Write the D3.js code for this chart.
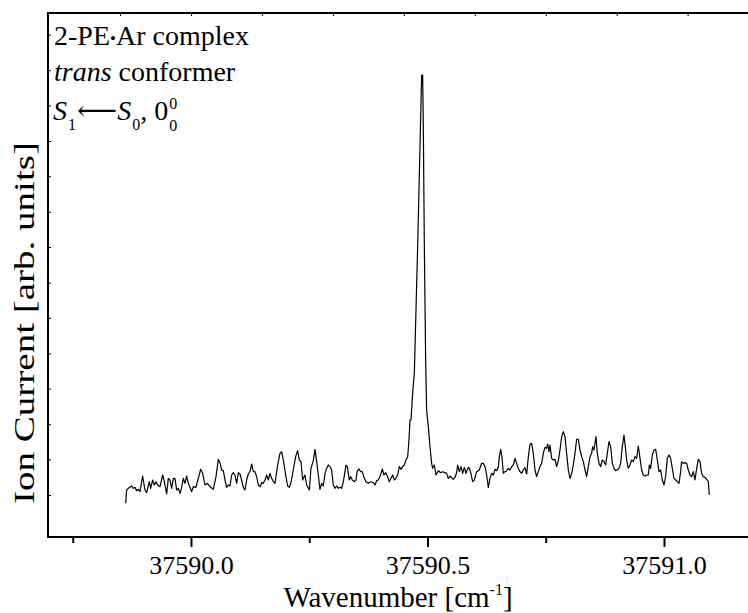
<!DOCTYPE html>
<html><head><meta charset="utf-8">
<script src="https://cdn.jsdelivr.net/npm/d3@7"></script>
<style>
body{margin:0;background:#fff}
svg{display:block}
text{font-family:"Liberation Serif","Times New Roman",Tinos,"Nimbus Roman","DejaVu Serif","Noto Serif",serif;fill:#000}
</style>
</head><body>
<svg id="chart" width="748" height="613"></svg>
<script>
// ---- data ----
const wavenumber = [
37589.8619,37589.8640,37589.8675,37589.8746,37589.8781,37589.8816,37589.8851,37589.8887,37589.8922,37589.8978,
37589.9027,37589.9063,37589.9119,37589.9147,37589.9190,37589.9225,37589.9260,37589.9295,37589.9345,37589.9401,
37589.9436,37589.9486,37589.9521,37589.9556,37589.9591,37589.9627,37589.9662,37589.9697,37589.9732,37589.9767,
37589.9803,37589.9838,37589.9873,37589.9908,37589.9944,37589.9979,37590.0014,37590.0049,37590.0106,37590.0155,
37590.0204,37590.0247,37590.0296,37590.0345,37590.0402,37590.0472,37590.0529,37590.0578,37590.0613,37590.0648,
37590.0684,37590.0719,37590.0754,37590.0789,37590.0825,37590.0860,37590.0895,37590.0930,37590.0965,37590.1001,
37590.1036,37590.1071,37590.1106,37590.1142,37590.1177,37590.1212,37590.1247,37590.1283,37590.1318,37590.1353,
37590.1388,37590.1424,37590.1459,37590.1494,37590.1529,37590.1564,37590.1600,37590.1635,37590.1670,37590.1705,
37590.1741,37590.1776,37590.1832,37590.1882,37590.1917,37590.1952,37590.2008,37590.2044,37590.2079,37590.2114,
37590.2163,37590.2213,37590.2255,37590.2290,37590.2326,37590.2361,37590.2410,37590.2445,37590.2502,37590.2537,
37590.2586,37590.2622,37590.2657,37590.2692,37590.2727,37590.2762,37590.2798,37590.2833,37590.2868,37590.2903,
37590.2939,37590.2974,37590.3009,37590.3044,37590.3080,37590.3115,37590.3150,37590.3185,37590.3221,37590.3256,
37590.3277,37590.3305,37590.3347,37590.3376,37590.3411,37590.3453,37590.3488,37590.3517,37590.3552,37590.3587,
37590.3622,37590.3657,37590.3700,37590.3749,37590.3805,37590.3855,37590.3890,37590.3925,37590.3960,37590.4010,
37590.4045,37590.4080,37590.4116,37590.4151,37590.4193,37590.4228,37590.4264,37590.4299,37590.4334,37590.4369,
37590.4404,37590.4440,37590.4475,37590.4510,37590.4545,37590.4581,37590.4609,37590.4630,
37590.4651,37590.4686,37590.4722,37590.4757,37590.4792,37590.4827,37590.4863,37590.4877,37590.4898,37590.4912,
37590.4933,37590.4961,37590.4982,37590.5018,37590.5053,37590.5088,37590.5109,
37590.5144,37590.5180,37590.5229,37590.5278,37590.5321,37590.5370,37590.5405,37590.5440,37590.5476,37590.5511,
37590.5546,37590.5581,37590.5617,37590.5638,37590.5673,37590.5708,37590.5744,37590.5779,37590.5814,37590.5849,
37590.5884,37590.5920,37590.5955,37590.5990,37590.6039,37590.6096,37590.6145,37590.6180,37590.6216,37590.6251,
37590.6286,37590.6321,37590.6357,37590.6392,37590.6427,37590.6462,37590.6498,37590.6519,37590.6547,37590.6575,
37590.6603,37590.6638,37590.6674,37590.6709,37590.6744,37590.6779,37590.6815,37590.6850,37590.6885,37590.6920,
37590.6956,37590.6991,37590.7026,37590.7061,37590.7097,37590.7132,37590.7167,37590.7202,37590.7237,37590.7273,
37590.7308,37590.7343,37590.7378,37590.7414,37590.7449,37590.7484,37590.7519,37590.7541,37590.7569,37590.7590,
37590.7625,37590.7660,37590.7696,37590.7731,37590.7766,37590.7801,37590.7837,37590.7872,37590.7907,37590.7942,
37590.7977,37590.8013,37590.8048,37590.8083,37590.8118,37590.8154,37590.8189,37590.8224,37590.8259,37590.8295,
37590.8330,37590.8365,37590.8400,37590.8436,37590.8471,37590.8492,37590.8520,37590.8541,37590.8562,37590.8591,
37590.8626,37590.8661,37590.8696,37590.8732,37590.8767,37590.8802,37590.8837,37590.8873,37590.8908,37590.8943,
37590.8978,37590.9014,37590.9049,37590.9084,37590.9119,37590.9154,37590.9175,37590.9211,37590.9246,37590.9281,
37590.9316,37590.9352,37590.9387,37590.9422,37590.9457,37590.9493,37590.9528,37590.9563,37590.9598,37590.9634,
37590.9669,37590.9690,37590.9718,37590.9753,37590.9789,37590.9824,37590.9859,37590.9894,37590.9930,37590.9965,
37591.0000,37591.0035,37591.0071,37591.0106,37591.0141,37591.0176,37591.0211,37591.0247,37591.0282,37591.0317,
37591.0352,37591.0373,37591.0409,37591.0444,37591.0479,37591.0514,37591.0550,37591.0585,37591.0620,37591.0655,
37591.0691,37591.0726,37591.0761,37591.0796,37591.0832,37591.0867,37591.0902,37591.0937,37591.0958
];
const ionCurrent = [
8.42,11.75,12.17,12.75,12.17,12.42,11.58,11.92,11.33,15.25,
11.75,11.08,13.83,12.17,14.25,13.0,13.83,13.0,12.58,15.5,
13.83,10.75,14.67,14.25,12.17,14.67,14.58,11.75,12.17,10.92,
12.42,14.67,13.42,15.25,13.42,12.42,11.33,12.58,12.42,14.67,
16.92,15.92,13.0,13.42,12.58,11.92,15.08,19.42,18.58,16.75,
16.58,14.25,12.42,13.0,12.75,15.5,16.08,15.5,13.42,16.08,
15.75,14.25,12.42,11.75,14.25,15.75,16.33,18.25,16.33,16.33,
15.08,13.0,12.58,13.58,13.42,14.25,15.5,14.25,15.92,14.67,
13.83,13.42,18.0,20.92,21.33,19.25,15.08,12.75,12.42,13.58,
16.75,20.08,21.58,19.25,18.83,14.25,15.5,13.0,11.75,17.17,
19.08,21.92,18.83,15.5,11.92,13.42,12.75,15.92,17.17,18.0,
17.58,16.75,13.0,12.17,12.75,12.17,12.42,12.17,13.83,16.33,
18.0,17.58,14.25,15.08,14.25,13.83,14.25,16.58,17.0,16.33,
16.33,14.92,13.83,13.42,13.83,13.58,13.0,14.08,14.25,15.5,
17.0,15.5,16.08,15.25,13.83,14.67,15.5,14.25,14.67,15.5,
17.58,16.92,17.58,18.0,19.25,20.08,24.25,29.25,
29.25,35.92,40.92,56.75,72.58,90.08,108.42,115.5,115.5,102.58,
73.42,44.25,31.75,27.58,22.58,18.42,17.17,
18.0,15.5,16.58,16.08,16.33,16.08,15.92,14.67,15.25,14.83,
14.42,14.92,16.08,18.0,16.33,17.58,15.92,17.42,15.92,17.17,
17.33,15.75,13.83,14.25,16.33,16.75,18.42,18.42,17.58,15.5,
12.42,14.67,15.92,15.5,16.92,16.58,17.58,20.08,21.92,20.08,
15.92,16.33,16.58,17.17,16.75,17.58,18.0,19.67,18.42,17.17,
16.33,15.92,16.75,17.33,15.75,20.08,23.17,23.42,20.92,16.75,
15.08,16.33,17.58,18.42,20.92,22.42,22.17,23.25,21.33,23.0,
19.67,19.25,19.42,17.58,19.08,21.75,25.08,26.33,25.08,20.92,
16.75,14.67,15.92,18.0,20.92,24.42,24.42,21.75,20.08,18.83,
16.75,15.08,17.58,20.08,20.92,22.58,21.75,23.42,25.08,20.92,
18.42,17.58,19.25,18.83,18.0,20.92,23.83,22.58,18.42,17.17,
16.58,16.75,17.17,18.42,22.58,25.5,23.42,19.25,17.17,18.0,
19.25,18.83,20.08,19.67,22.75,19.67,16.75,15.5,15.25,15.5,
15.5,18.0,17.17,20.5,21.75,21.92,19.25,16.33,16.75,14.25,
13.0,15.08,19.67,20.5,19.67,17.17,14.67,14.25,13.83,13.42,
16.33,18.83,18.42,18.58,18.42,16.75,15.5,15.08,16.33,14.25,
17.17,19.42,18.83,15.92,15.08,14.92,14.42,13.83,10.5
];

const xMajorTicks = [37590.0, 37590.5, 37591.0];
const xTickLabels = ["37590.0", "37590.5", "37591.0"];
const xMinorTicks = [37589.75, 37590.25, 37590.75];
const xTopTicks = [37589.85, 37590.0, 37590.15, 37590.3, 37590.45, 37590.6, 37590.75, 37590.9, 37591.05];
const yTicks = [10.5, 19.4, 28.2, 37.1, 45.9, 54.8, 63.6, 72.5, 81.3, 90.2, 99.0, 107.9, 116.7, 125.6];
const xDomain = [37589.6977, 37591.2030];
const yDomain = [0, 131];

// ---- layout ----
const SERIF = '"Liberation Serif","Times New Roman",Tinos,"Nimbus Roman","DejaVu Serif","Noto Serif",serif';
const svg = d3.select("#chart");
const L = 48, R = 760, T = 13, B = 537;
const x = d3.scaleLinear().domain(xDomain).range([L, R]);
const y = d3.scaleLinear().domain(yDomain).range([B, T]);

// spectrum
const pts = d3.zip(wavenumber, ionCurrent);
svg.append("path")
  .datum(pts)
  .attr("fill", "none")
  .attr("stroke", "#000")
  .attr("stroke-width", 1.2)
  .attr("stroke-linejoin", "round")
  .attr("d", d3.line().x(d => x(d[0])).y(d => y(d[1])));

// frame
svg.append("rect").attr("x", L).attr("y", T).attr("width", R - L).attr("height", B - T)
  .attr("fill", "none").attr("stroke", "#000").attr("stroke-width", 2);

// bottom axis
const bottomMajor = d3.axisBottom(x).tickValues(xMajorTicks).tickSize(10)
  .tickFormat((d, i) => xTickLabels[i]).tickPadding(9);
const gB = svg.append("g").attr("transform", `translate(0,${B})`).call(bottomMajor);
gB.attr("font-family", null).attr("font-size", null);
gB.select(".domain").remove();
gB.selectAll("line").attr("stroke-width", 2);
gB.selectAll("text").style("font-family", SERIF).style("font-size", "26px").attr("fill", "#000");

const bottomMinor = d3.axisBottom(x).tickValues(xMinorTicks).tickSize(6).tickFormat("");
const gBm = svg.append("g").attr("transform", `translate(0,${B})`).call(bottomMinor);
gBm.select(".domain").remove();
gBm.selectAll("line").attr("stroke-width", 2);

// top axis (tiny inward ticks)
const topAx = d3.axisBottom(x).tickValues(xTopTicks).tickSize(3).tickFormat("");
const gT = svg.append("g").attr("transform", `translate(0,${T})`).call(topAx);
gT.select(".domain").remove();
gT.selectAll("line").attr("stroke-width", 1);

// left axis (small inward ticks)
const leftAx = d3.axisRight(y).tickValues(yTicks).tickSize(3).tickFormat("");
const gL = svg.append("g").attr("transform", `translate(${L},0)`).call(leftAx);
gL.select(".domain").remove();
gL.selectAll("line").attr("stroke-width", 1);

// axis titles
const xt = svg.append("text").attr("x", 398).attr("y", 607).attr("text-anchor", "middle")
  .style("font-family", SERIF).style("font-size", "29px");
xt.append("tspan").text("Wavenumber [cm");
xt.append("tspan").attr("dy", -12).style("font-size", "16px").text("-1");
xt.append("tspan").attr("dy", 12).text("]");

svg.append("text").attr("transform", "translate(34,323) rotate(-90)")
  .attr("text-anchor", "middle").style("font-family", SERIF).style("font-size", "30px")
  .attr("textLength", 362).attr("lengthAdjust", "spacingAndGlyphs")
  .text("Ion Current [arb. units]");

// annotation
const ann = svg.append("g").style("font-size", "28px").style("font-family", SERIF);
const t1 = ann.append("text").attr("x", 54).attr("y", 45);
t1.append("tspan").text("2-PE");
t1.append("tspan").style("font-size", "17px").attr("dy", -1).text("\u2022");
t1.append("tspan").attr("dy", 1).text("Ar complex");
const t2 = ann.append("text").attr("x", 54).attr("y", 81);
t2.append("tspan").style("font-style", "italic").text("trans");
t2.append("tspan").text(" conformer");
const t3 = ann.append("text").attr("x", 53).attr("y", 120);
t3.append("tspan").style("font-style", "italic").text("S");
t3.append("tspan").attr("dy", 10).attr("dx", 1).style("font-size", "16px").text("1");
t3.append("tspan").attr("dy", -10).attr("dx", 1).style("font-size", "28px").text("\u27F5");
t3.append("tspan").style("font-style", "italic").text("S");
t3.append("tspan").attr("dy", 10).attr("dx", 1).style("font-size", "16px").text("0");
t3.append("tspan").attr("dy", -10).text(", 0");
t3.append("tspan").attr("dy", -11).attr("dx", 1).style("font-size", "16px").text("0");
t3.append("tspan").attr("dy", 22).attr("dx", -8).style("font-size", "16px").text("0");
</script>
</body></html>
